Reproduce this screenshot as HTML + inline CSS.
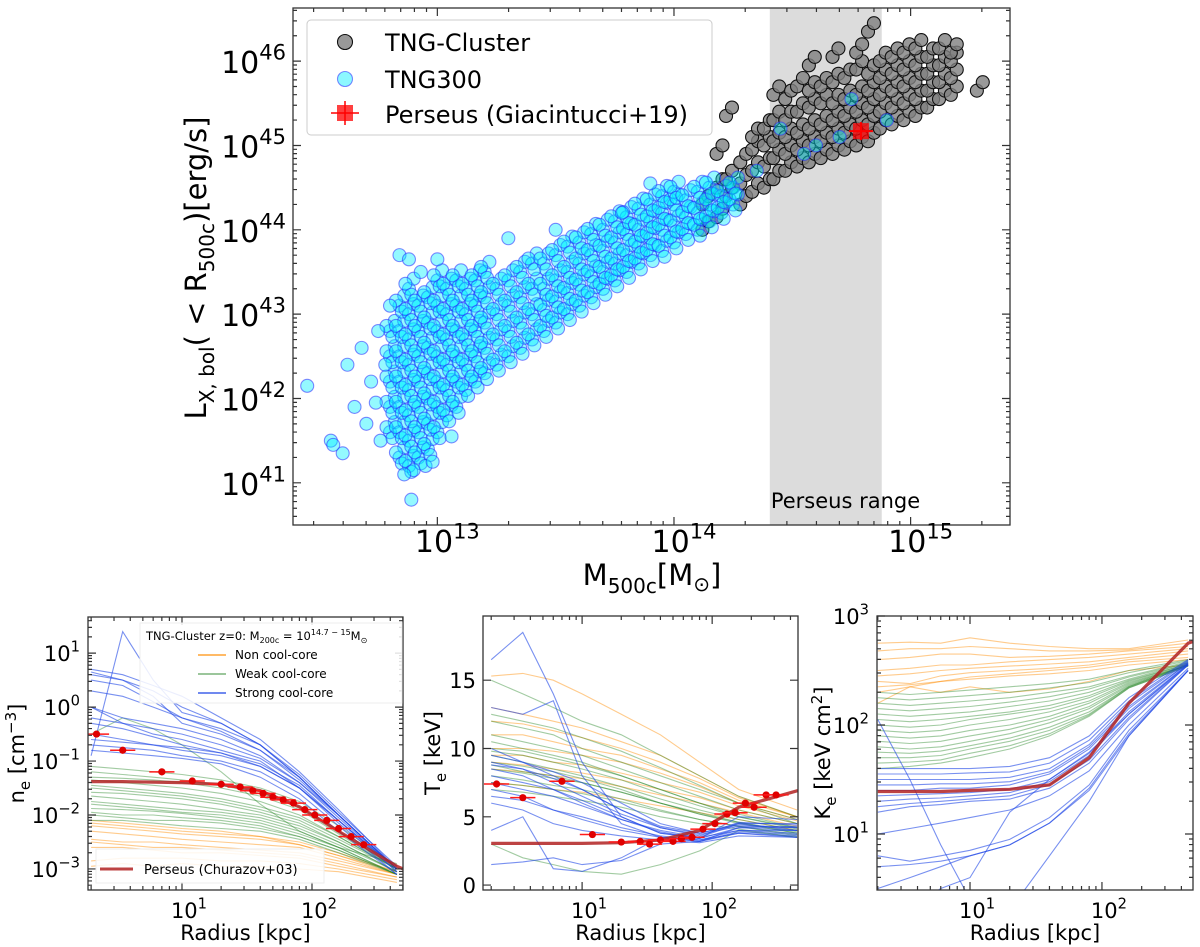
<!DOCTYPE html>
<html><head><meta charset="utf-8"><style>
html,body{margin:0;padding:0;background:#fff;}
svg{display:block;font-family:"DejaVu Sans","Liberation Sans",sans-serif;}
</style></head><body>
<svg id="chart" width="1200" height="947" viewBox="0 0 1200 947" xmlns="http://www.w3.org/2000/svg"></svg>
<script>
// ---------------- DATA ----------------
const blueM = [12.80,12.84,12.88,12.92,12.96,13.00,13.04,13.08,13.12,13.16,13.20,13.25,13.30,13.35,13.40,13.45,13.50,13.55,13.60,13.65,13.70,13.75,13.80,13.85,13.90,13.95,14.00,14.05,14.10,14.15,14.20,14.25];
const blueL = [[41.6,41.9,42.2,42.5,42.8],[41.3,41.6,41.9,42.2,42.5,42.8,43.1],[41.2,41.5,41.8,42.1,42.4,42.7,43.0,43.3],[41.3,41.6,41.9,42.2,42.5,42.8,43.1],[41.4,41.7,42.0,42.3,42.6,42.9,43.2],[41.6,41.9,42.2,42.5,42.8,43.1,43.4],[41.8,42.1,42.4,42.7,43.0,43.3],[41.9,42.2,42.5,42.8,43.1,43.4],[42.1,42.4,42.7,43.0,43.3],[42.2,42.5,42.8,43.1,43.4],[42.3,42.6,42.9,43.2,43.5],[42.4,42.7,43.0,43.3],[42.5,42.8,43.1,43.4],[42.6,42.9,43.2,43.5],[42.7,43.0,43.3,43.6],[42.8,43.05,43.3,43.6],[42.9,43.15,43.4,43.7],[43.0,43.25,43.5,43.8],[43.1,43.35,43.6,43.85],[43.2,43.45,43.7,43.95],[43.3,43.5,43.75,44.0],[43.4,43.6,43.85,44.1],[43.5,43.7,43.95,44.15],[43.6,43.8,44.0,44.25],[43.7,43.9,44.1,44.3],[43.75,44.0,44.2,44.4],[43.85,44.05,44.3,44.45],[43.95,44.15,44.35],[44.0,44.2,44.45],[44.1,44.3,44.5],[44.2,44.4],[44.3,44.5]];
const blueExtraM = [12.45,12.55,12.56,12.60,12.62,12.65,12.68,12.70,12.72,12.74,12.75,12.76,12.78,12.80,12.84,12.88,12.89,12.90,12.86,12.95,13.00,13.30,13.50,13.78,13.90,14.35,14.45,14.55,14.60,14.70,14.75,14.90,12.98,13.06,12.93];
const blueExtraL = [42.15,41.5,41.45,41.35,42.4,41.9,42.6,41.7,42.2,41.95,42.8,41.5,42.4,43.1,43.7,43.65,40.8,41.15,41.1,41.2,43.65,43.9,44.0,44.2,44.55,44.7,45.2,44.9,45.0,45.1,45.55,45.3,41.25,41.55,43.5];
const grayM = [14.12,14.18,14.22,14.28,14.33,14.38,14.42,14.47,14.52,14.57,14.62,14.67,14.72,14.77,14.82,14.87,14.92,14.97,15.02,15.07,15.12,15.17,15.28];
const grayL = [[44.0,44.3],[44.15,44.5,44.9],[44.4,44.6,45.35],[44.3,44.55,44.8],[44.45,44.7,44.95,45.1],[44.5,44.75,45.0,45.2],[44.6,44.85,45.05,45.3,45.6],[44.7,44.9,45.1,45.3,45.55],[44.75,44.95,45.15,45.4,45.7],[44.8,45.0,45.2,45.45,45.65,45.95],[44.85,45.05,45.25,45.5,45.7],[44.9,45.1,45.3,45.5,45.75,46.05],[44.95,45.15,45.35,45.55,45.8],[45.0,45.2,45.4,45.6,45.9,46.1],[45.05,45.25,45.45,45.65,45.85,46.35],[45.2,45.4,45.6,45.8,46.0],[45.25,45.45,45.65,45.85,46.05],[45.3,45.5,45.7,45.9,46.1],[45.35,45.55,45.75,45.95,46.15],[45.45,45.65,45.85,46.05],[45.55,45.75,45.95,46.15],[45.6,45.8,46.0,46.1],[45.65]];
const perseusM = 14.79, perseusL = 45.17;
const bandLo = 14.405, bandHi = 14.878;

const radii = [2,3.5,6,10,20,40,80,160,450];
const neOrange = [[-2.1,-2.15,-2.2,-2.25,-2.3,-2.4,-2.5,-2.7,-3.05],[-2.2,-2.25,-2.3,-2.35,-2.4,-2.45,-2.55,-2.75,-3.05],[-2.3,-2.35,-2.4,-2.45,-2.5,-2.55,-2.6,-2.8,-3.1],[-2.45,-2.5,-2.5,-2.55,-2.6,-2.65,-2.7,-2.85,-3.1],[-2.6,-2.6,-2.65,-2.7,-2.7,-2.75,-2.8,-2.95,-3.15],[-2.85,-2.8,-2.8,-2.8,-2.85,-2.85,-2.9,-3.0,-3.2],[-2.15,-2.2,-2.25,-2.3,-2.35,-2.4,-2.55,-2.75,-3.1],[-2.5,-2.55,-2.6,-2.6,-2.65,-2.7,-2.75,-2.9,-3.15],[-2.95,-2.9,-2.95,-2.9,-2.95,-2.95,-3.0,-3.05,-3.25]];
const neGreen = [[-1.2,-1.25,-1.3,-1.35,-1.45,-1.6,-1.85,-2.3,-3.0],[-1.35,-1.4,-1.45,-1.5,-1.6,-1.75,-2.0,-2.4,-3.0],[-1.5,-1.55,-1.6,-1.65,-1.75,-1.9,-2.1,-2.45,-3.0],[-1.65,-1.7,-1.75,-1.8,-1.9,-2.0,-2.2,-2.5,-3.05],[-1.8,-1.85,-1.9,-1.95,-2.0,-2.1,-2.3,-2.6,-3.1],[-1.95,-2.0,-2.0,-2.05,-2.1,-2.2,-2.4,-2.65,-3.1],[-2.1,-2.1,-2.15,-2.2,-2.25,-2.3,-2.45,-2.7,-3.1],[-0.5,-0.2,-0.4,-0.7,-1.2,-1.8,-2.3,-2.6,-2.9],[-1.45,-1.5,-1.55,-1.6,-1.7,-1.85,-2.05,-2.4,-3.0],[-1.75,-1.8,-1.85,-1.9,-1.95,-2.05,-2.25,-2.55,-3.05],[-1.3,-1.32,-1.35,-1.4,-1.5,-1.65,-1.9,-2.35,-3.0],[-1.58,-1.6,-1.65,-1.7,-1.8,-1.95,-2.15,-2.5,-3.05],[-1.88,-1.9,-1.93,-1.97,-2.05,-2.15,-2.35,-2.6,-3.1],[-1.1,-1.15,-1.2,-1.25,-1.35,-1.5,-1.75,-2.2,-2.95],[-2.0,-2.05,-2.1,-2.1,-2.15,-2.25,-2.4,-2.65,-3.1]];
const neBlue = [[0.7,0.6,0.4,0.2,-0.2,-0.6,-1.2,-1.9,-3.0],[0.5,0.4,0.1,-0.2,-0.4,-0.7,-1.3,-2.0,-3.0],[0.0,-0.2,-0.3,-0.4,-0.6,-0.9,-1.4,-2.0,-3.0],[-0.5,-0.6,-0.7,-0.8,-0.9,-1.1,-1.5,-2.1,-3.05],[-0.7,-0.75,-0.8,-0.9,-1.0,-1.2,-1.6,-2.2,-3.1],[-0.8,-0.85,-0.9,-0.95,-1.05,-1.3,-1.7,-2.3,-3.1],[-0.9,1.4,0.5,-0.1,-0.3,-0.7,-1.3,-2.0,-3.0],[0.0,-0.3,-0.5,-0.6,-0.8,-1.0,-1.5,-2.1,-3.0],[-0.3,-0.4,-0.55,-0.7,-0.85,-1.05,-1.45,-2.1,-3.0],[0.6,0.5,0.3,0.0,-0.3,-0.7,-1.25,-1.95,-2.95],[0.3,0.2,0.0,-0.2,-0.45,-0.8,-1.3,-2.0,-3.0],[-0.2,-0.3,-0.4,-0.5,-0.7,-0.95,-1.4,-2.05,-3.0],[-0.6,-0.65,-0.7,-0.75,-0.85,-1.1,-1.5,-2.15,-3.05],[0.65,0.5,0.2,-0.3,-0.5,-0.8,-1.35,-2.0,-3.0]];
const nePerseus = [-1.38,-1.38,-1.39,-1.4,-1.43,-1.55,-1.85,-2.3,-2.95];
const neObsR = [2.2,3.5,7,12,20,28,35,42,50,60,72,88,105,130,160,200,250];
const neObsV = [-0.5,-0.8,-1.2,-1.37,-1.43,-1.48,-1.55,-1.6,-1.67,-1.72,-1.78,-1.9,-2.0,-2.1,-2.25,-2.4,-2.55];

const teOrange = [[15.3,15.5,15,14,12.5,11,9,7,5.5],[13,12.5,12,11.5,10.5,9.5,8,6.5,5],[11,11,10.5,10,9.5,8.5,7.5,6.2,5],[9.5,9.5,9,8.8,8.2,7.5,6.8,5.8,4.7],[8.5,8.3,8,7.8,7.2,6.6,6,5.3,4.3],[7.5,7.3,7,6.8,6.3,5.8,5.3,4.8,4.0],[10,10,9.8,9.5,9,8.2,7.2,6,4.8],[12,11.8,11.3,10.8,10,9,7.8,6.4,5.0],[9,8.8,8.5,8.2,7.7,7,6.4,5.5,4.5]];
const teGreen = [[15,14,13,12,11,9.5,8,6.5,5],[12,11.5,11,10,9,8,7,6,4.5],[10.5,10,9.5,9,8,7,6,5.2,4.2],[9.5,9,8.5,8,7.2,6.3,5.5,4.8,4.0],[8.8,8.3,8,7.5,6.8,6,5.2,4.6,3.8],[8,7.7,7.3,7,6.3,5.5,4.8,4.3,3.6],[7,6.8,6.5,6.2,5.7,5.0,4.5,4.1,3.5],[3,2,1.5,1.0,0.8,1.5,2.5,4,3.5],[11,10.5,10,9.5,8.5,7.5,6.5,5.5,4.5],[9,8.7,8.3,7.8,7,6,5.2,4.5,3.8],[10,9.8,9.3,8.8,8,7,6,5,4.2],[8.5,8.2,7.8,7.5,6.8,6,5.3,4.6,3.9],[7.5,7.3,7,6.7,6.1,5.4,4.8,4.3,3.7],[12.5,12,11.5,10.8,9.8,8.6,7.3,6,4.8],[9.8,9.5,9,8.5,7.7,6.7,5.8,5,4.1]];
const teBlue = [[16.5,18.5,14,9,5,3.8,3.5,4.5,4.5],[13,12.5,13.5,8,4.5,3.5,3.2,4.2,4.3],[10,9,8,7,5.5,4.3,3.8,4.5,4.0],[9,8.5,7.5,6.5,5.2,4.2,3.7,4.3,4.2],[8,7.5,7,6,4.8,4.0,3.5,4.0,4.0],[7,6.5,5.5,5,4.2,3.6,3.3,3.8,3.6],[4,5,1.2,1.0,2,3.5,3.3,4,3.8],[1.5,1.7,2.0,1.5,1.8,3.0,3.2,3.8,3.5],[8.5,8.0,7.0,6.2,5.0,3.8,3.4,5,4.8],[6,5.5,4.5,4.0,3.6,3.3,3.1,3.6,3.5],[9.5,9,8.3,7.5,6,4.5,3.8,4.4,4.2],[7.5,7,6.5,5.8,4.8,3.9,3.4,4.2,4.0],[6.5,6.2,5.5,4.8,4.0,3.5,3.2,3.9,3.7],[8.8,8.5,7.8,7,5.5,4.2,3.6,4.6,4.4]];
const tePerseus = [3.05,3.05,3.05,3.05,3.1,3.3,4.0,5.7,6.9];
const teObsR = [2.2,3.5,7,12,20,28,33,40,50,58,70,85,105,130,150,180,210,260,310];
const teObsV = [7.4,6.4,7.6,3.7,3.15,3.2,3.0,3.3,3.2,3.4,3.5,4.1,4.5,5.2,5.3,6.0,5.7,6.6,6.6];

const kOrange = [[2.75,2.76,2.75,2.8,2.75,2.72,2.7,2.7,2.78],[2.6,2.62,2.65,2.65,2.62,2.63,2.65,2.68,2.72],[2.5,2.52,2.55,2.55,2.58,2.6,2.62,2.65,2.7],[2.4,2.38,2.45,2.48,2.5,2.52,2.55,2.6,2.65],[2.3,2.35,2.4,2.42,2.45,2.47,2.5,2.55,2.6],[2.2,2.35,2.3,2.35,2.3,2.33,2.4,2.5,2.55],[2.68,2.7,2.7,2.72,2.7,2.68,2.68,2.69,2.75],[2.45,2.47,2.5,2.52,2.54,2.56,2.58,2.62,2.68],[2.35,2.37,2.4,2.44,2.47,2.5,2.53,2.58,2.62]];
const kGreen = [[2.3,2.28,2.3,2.32,2.35,2.38,2.42,2.5,2.6],[2.2,2.18,2.2,2.22,2.25,2.3,2.35,2.45,2.58],[2.1,2.08,2.1,2.12,2.17,2.22,2.3,2.42,2.57],[2.0,1.98,2.0,2.05,2.1,2.15,2.25,2.4,2.56],[1.9,1.88,1.9,1.95,2.0,2.08,2.2,2.38,2.55],[1.8,1.78,1.8,1.85,1.92,2.02,2.15,2.36,2.55],[1.7,1.7,1.72,1.78,1.85,1.95,2.1,2.35,2.55],[1.6,1.62,1.65,1.7,1.78,1.9,2.08,2.34,2.54],[2.05,2.03,2.05,2.08,2.12,2.18,2.27,2.41,2.56],[1.85,1.83,1.85,1.9,1.96,2.05,2.17,2.37,2.55],[2.25,2.23,2.25,2.27,2.3,2.34,2.39,2.48,2.59],[2.15,2.13,2.15,2.17,2.21,2.26,2.33,2.44,2.57],[1.95,1.93,1.95,2.0,2.05,2.12,2.22,2.39,2.55],[1.75,1.74,1.76,1.81,1.88,1.98,2.12,2.35,2.55],[1.65,1.66,1.68,1.74,1.81,1.92,2.09,2.34,2.54]];
const kBlue = [[1.6,1.6,1.6,1.6,1.62,1.7,1.9,2.25,2.6],[1.5,1.5,1.5,1.5,1.52,1.6,1.82,2.2,2.58],[1.4,1.4,1.42,1.42,1.45,1.55,1.78,2.15,2.57],[1.3,1.32,1.33,1.35,1.38,1.48,1.72,2.1,2.56],[1.2,1.25,1.27,1.3,1.32,1.42,1.65,2.05,2.55],[1.0,1.05,1.1,1.15,1.22,1.35,1.58,2.0,2.52],[0.8,0.75,0.8,0.85,0.95,1.15,1.45,1.95,2.5],[0.5,0.6,0.7,0.8,0.9,1.1,1.4,1.9,2.5],[2.05,1.5,0.9,0.4,0.3,0.8,1.3,1.9,2.5],[0.4,0.3,0.5,0.6,1.2,1.5,1.75,2.1,2.55],[1.45,1.45,1.46,1.46,1.48,1.57,1.8,2.17,2.57],[1.35,1.36,1.37,1.38,1.41,1.5,1.74,2.12,2.56],[1.55,1.55,1.55,1.56,1.57,1.65,1.86,2.22,2.59],[1.25,1.28,1.3,1.32,1.35,1.45,1.68,2.07,2.55],[0.7,0.72,0.75,0.8,0.9,1.1,1.42,1.92,2.5]];
const kPerseus = [1.39,1.39,1.39,1.4,1.41,1.45,1.7,2.2,2.75];

// ---------------- DRAWING ----------------
const NS = "http://www.w3.org/2000/svg";
const svg = document.getElementById('chart');
function mk(tag, attrs, parent){
  const e = document.createElementNS(NS, tag);
  for (const k in attrs) e.setAttribute(k, attrs[k]);
  (parent || svg).appendChild(e);
  return e;
}
function powText(parent, x, y, base, exp, size, anchor){
  const t = mk('text', {x:x, y:y, 'font-size':size, 'text-anchor':anchor||'middle', fill:'#000'}, parent);
  
  
  t.appendChild(document.createTextNode(base));
  const s = mk('tspan', {dy: -size*0.45, 'font-size': size*0.7}, t);
  s.textContent = exp;
  return t;
}

const M = {x0:293, x1:1010, y0:8, y1:525, xlo:12.39, xhi:15.42, ylo:40.5, yhi:46.63};
const xM = v => M.x0 + (v - M.xlo)/(M.xhi - M.xlo)*(M.x1 - M.x0);
const yL = v => M.y1 - (v - M.ylo)/(M.yhi - M.ylo)*(M.y1 - M.y0);
const gMain = mk('g', {});



const band = mk('rect', {x:xM(bandLo), y:M.y0, width:xM(bandHi)-xM(bandLo), height:M.y1-M.y0, fill:'#dcdcdc'}, gMain);


const bandTxt = mk('text', {x:xM(bandLo)+1, y:508, 'font-size':21, fill:'#000'}, gMain);


bandTxt.textContent = 'Perseus range';

const gGray = mk('g', {}, gMain);


function grayPt(m, l){
  const c = mk('circle', {cx:xM(m), cy:yL(l), r:6.5, fill:'rgba(128,128,128,0.8)', stroke:'#111', 'stroke-width':1.1}, gGray);
  
  
}
grayM.forEach((m, i) => { grayL[i].forEach(l => { grayPt(m, l); grayPt(m + 0.025, l + 0.1); }); });
const gBlue = mk('g', {}, gMain);


function bluePt(m, l){
  const c = mk('circle', {cx:xM(m), cy:yL(l), r:6.5, fill:'rgba(0,240,255,0.42)', stroke:'rgba(40,40,255,0.55)', 'stroke-width':1.1}, gBlue);
  
  
}
blueM.forEach((m, i) => { blueL[i].forEach(l => { bluePt(m, l); bluePt(m + 0.02, l + 0.12); bluePt(m - 0.015, l + 0.06); bluePt(m + 0.01, l - 0.07); }); });
blueExtraM.forEach((m, i) => bluePt(m, blueExtraL[i]));

const px = xM(perseusM), py = yL(perseusL);
const pErr = mk('path', {d:`M${px-12},${py}H${px+12}M${px},${py-9}V${py+9}`, stroke:'#ff0000', 'stroke-width':2}, gMain);


const pSq = mk('rect', {x:px-8, y:py-8, width:16, height:16, fill:'rgba(255,0,0,0.75)'}, gMain);



function logTicks(g, x0, x1, y0, y1, lo, hi, map, horizontal){
  for (let d = Math.floor(lo); d <= Math.ceil(hi); d++){
    for (let k = 1; k < 10; k++){
      const v = d + Math.log10(k);
      if (v < lo || v > hi) continue;
      const p = map(v); const len = k === 1 ? 8 : 4;
      let dd;
      if (horizontal) dd = `M${p},${y1}v${-len}M${p},${y0}v${len}`;
      else dd = `M${x0},${p}h${len}M${x1},${p}h${-len}`;
      const t = mk('path', {d:dd, stroke:'#333', 'stroke-width':1.2}, g);
      
      
    }
  }
}
function linTicks(g, x0, x1, lo, hi, step, minor, map){
  for (let v = Math.ceil(lo/minor)*minor; v <= hi; v += minor){
    const p = map(v);
    const t = mk('path', {d:`M${x0},${p}h8M${x1},${p}h-8`, stroke:'#333', 'stroke-width':1.2}, g);
    
    
  }
}
logTicks(gMain, M.x0, M.x1, M.y0, M.y1, M.xlo, M.xhi, xM, true);
logTicks(gMain, M.x0, M.x1, M.y0, M.y1, M.ylo, M.yhi, yL, false);
const frame = mk('rect', {x:M.x0, y:M.y0, width:M.x1-M.x0, height:M.y1-M.y0, fill:'none', stroke:'#333', 'stroke-width':1.3}, gMain);


[13,14,15].forEach(e => powText(gMain, xM(e)+10, 552, '10', e, 30));
[41,42,43,44,45,46].forEach(e => powText(gMain, 286, yL(e)+12, '10', e, 30, 'end'));

const xlab = mk('text', {x:652, y:585, 'font-size':29, 'text-anchor':'middle'}, gMain);


xlab.innerHTML = 'M<tspan dy="8" font-size="20">500c</tspan><tspan dy="-8">[M</tspan><tspan dy="6" font-size="20">⊙</tspan><tspan dy="-6">]</tspan>';
const ylab = mk('text', {x:0, y:0, 'font-size':29, 'text-anchor':'middle', transform:'translate(206,268) rotate(-90)'}, gMain);


ylab.innerHTML = 'L<tspan dy="8" font-size="20">X, bol</tspan><tspan dy="-8">( &lt; R</tspan><tspan dy="8" font-size="20">500c</tspan><tspan dy="-8">)[erg/s]</tspan>';

const lg = mk('g', {});


const lbox = mk('rect', {x:307, y:20, width:405, height:115, rx:4, fill:'rgba(255,255,255,0.85)', stroke:'#ccc'}, lg);


const le1 = mk('circle', {cx:345, cy:42, r:7.5, fill:'rgba(128,128,128,0.8)', stroke:'#111', 'stroke-width':1.1}, lg);


const le2 = mk('circle', {cx:345, cy:79, r:7.5, fill:'rgba(0,240,255,0.45)', stroke:'rgba(40,40,255,0.55)', 'stroke-width':1.1}, lg);


const le3 = mk('rect', {x:337, y:105, width:16, height:16, fill:'rgba(255,0,0,0.75)'}, lg);


const le3b = mk('path', {d:'M331,113H359M345,101V125', stroke:'#ff0000', 'stroke-width':1.5}, lg);


[['TNG-Cluster',51],['TNG300',88],['Perseus (Giacintucci+19)',123]].forEach(([s, y]) => {
  const t = mk('text', {x:385, y:y, 'font-size':24}, lg);
  
  
  t.textContent = s;
});

// ===== BOTTOM PANELS =====
const C_OR = 'rgba(255,140,0,0.45)', C_GR = 'rgba(34,130,34,0.42)', C_BL = 'rgba(30,70,230,0.6)', C_PE = 'rgba(178,34,34,0.85)';
function panel(name, P){
  const g = mk('g', {});
  
  
  const clip = mk('clipPath', {id:name+'-clip'}, g);
  mk('rect', {x:P.x0, y:P.y0, width:P.x1-P.x0, height:P.y1-P.y0}, clip);
  const inner = mk('g', {'clip-path':`url(#${name}-clip)`}, g);
  P.X = v => P.x0 + (Math.log10(v) - P.xlo)/(P.xhi - P.xlo)*(P.x1 - P.x0);
  P.Y = v => P.y1 - (v - P.ylo)/(P.yhi - P.ylo)*(P.y1 - P.y0);
  P.g = g; P.inner = inner;
  return P;
}
function drawSet(P, sets, color, lname){
  sets.forEach(arr => {
    const d = arr.map((v, i) => (i ? 'L' : 'M') + P.X(radii[i]).toFixed(1) + ',' + P.Y(v).toFixed(1)).join('');
    const p = mk('path', {d:d, fill:'none', stroke:color, 'stroke-width':1.1}, P.inner);
    
    
  });
}
function drawPerseus(P, arr, ext){
  const pts = arr.map((v, i) => [P.X(radii[i]), P.Y(v)]);
  pts.push([P.X(600), P.Y(ext)]);
  const d = pts.map((p, i) => (i ? 'L' : 'M') + p[0].toFixed(1) + ',' + p[1].toFixed(1)).join('');
  const p = mk('path', {d:d, fill:'none', stroke:C_PE, 'stroke-width':3.2, 'stroke-linejoin':'round'}, P.inner);
  
  
}
function drawObs(P, rs, vs){
  rs.forEach((r, i) => {
    const x = P.X(r), y = P.Y(vs[i]), w = Math.max(4, P.X(r*1.25) - P.X(r));
    const e = mk('path', {d:`M${x-w},${y}H${x+w}`, stroke:'#ff1a1a', 'stroke-width':1.5}, P.inner);
    
    
    const c = mk('circle', {cx:x, cy:y, r:3.6, fill:'#e00000'}, P.inner);
    
    
  });
}
function frameAndX(P, ytitleHTML, ytx){
  logTicks(P.g, P.x0, P.x1, P.y0, P.y1, P.xlo, P.xhi, lv => P.x0 + (lv - P.xlo)/(P.xhi - P.xlo)*(P.x1 - P.x0), true);
  const f = mk('rect', {x:P.x0, y:P.y0, width:P.x1-P.x0, height:P.y1-P.y0, fill:'none', stroke:'#333', 'stroke-width':1.3}, P.g);
  
  
  [1,2].forEach(e => powText(P.g, P.X(Math.pow(10,e))+7, 918, '10', e, 21));
  const xl = mk('text', {x:(P.x0+P.x1)/2, y:940, 'font-size':21, 'text-anchor':'middle'}, P.g);
  
  
  xl.textContent = 'Radius [kpc]';
  const yl = mk('text', {x:0, y:0, 'font-size':21, 'text-anchor':'middle', transform:`translate(${ytx},${(P.y0+P.y1)/2}) rotate(-90)`}, P.g);
  
  
  yl.innerHTML = ytitleHTML;
}

const P1 = panel('density-panel', {x0:88, x1:403, y0:617, y1:890, xlo:0.277, xhi:2.70, ylo:-3.39, yhi:1.67});
drawSet(P1, neOrange, C_OR, 'non-cool-core-profile');
drawSet(P1, neGreen, C_GR, 'weak-cool-core-profile');
drawSet(P1, neBlue, C_BL, 'strong-cool-core-profile');
drawPerseus(P1, nePerseus, -3.08);
drawObs(P1, neObsR, neObsV);
logTicks(P1.g, P1.x0, P1.x1, P1.y0, P1.y1, P1.ylo, P1.yhi, P1.Y, false);
frameAndX(P1, 'n<tspan dy="6" font-size="15">e</tspan><tspan dy="-6"> [cm</tspan><tspan dy="-8" font-size="15">−3</tspan><tspan dy="8">]</tspan>', 24);
[-3,-2,-1,0,1].forEach(e => powText(P1.g, 80, P1.Y(e)+8, '10', e < 0 ? '−'+(-e) : e, 21, 'end'));
const l1 = mk('rect', {x:140, y:623, width:262, height:80, fill:'rgba(255,255,255,0.85)', stroke:'#eee'}, P1.g);


const l1t = mk('text', {x:146, y:640, 'font-size':11.5}, P1.g);


l1t.innerHTML = 'TNG-Cluster z=0: M<tspan dy="3" font-size="8">200c</tspan><tspan dy="-3"> = 10</tspan><tspan dy="-5" font-size="8">14.7 − 15</tspan><tspan dy="5">M</tspan><tspan dy="3" font-size="8">⊙</tspan>';
[['Non cool-core', 655, 'rgba(255,140,0,0.8)'],['Weak cool-core', 674, 'rgba(34,130,34,0.6)'],['Strong cool-core', 693, 'rgba(30,70,230,0.85)']].forEach(([s, y, c]) => {
  const ln = mk('path', {d:`M198,${y}H226`, stroke:c, 'stroke-width':1.6}, P1.g);
  
  
  const t = mk('text', {x:235, y:y+4, 'font-size':12}, P1.g);
  
  
  t.textContent = s;
});
const l2 = mk('rect', {x:96, y:849, width:228, height:34, fill:'rgba(255,255,255,0.85)', stroke:'#eee'}, P1.g);


const l2l = mk('path', {d:'M100,869H133', stroke:C_PE, 'stroke-width':3}, P1.g);


const l2t = mk('text', {x:144, y:874, 'font-size':13}, P1.g);


l2t.textContent = 'Perseus (Churazov+03)';

const P2 = panel('temperature-panel', {x0:483, x1:798, y0:616, y1:890, xlo:0.238, xhi:2.66, ylo:-0.36, yhi:19.7});
drawSet(P2, teOrange, C_OR, 'non-cool-core-profile');
drawSet(P2, teGreen, C_GR, 'weak-cool-core-profile');
drawSet(P2, teBlue, C_BL, 'strong-cool-core-profile');
drawPerseus(P2, tePerseus, 7.0);
drawObs(P2, teObsR, teObsV);
linTicks(P2.g, P2.x0, P2.x1, P2.ylo, P2.yhi, 5, 5, P2.Y);
frameAndX(P2, 'T<tspan dy="6" font-size="15">e</tspan><tspan dy="-6"> [keV]</tspan>', 440);
[0,5,10,15].forEach(v => {
  const t = mk('text', {x:476, y:P2.Y(v)+8, 'font-size':21, 'text-anchor':'end'}, P2.g);
  
  
  t.textContent = v;
});

const P3 = panel('entropy-panel', {x0:877, x1:1193, y0:616, y1:890, xlo:0.295, xhi:2.69, ylo:0.486, yhi:3.0});
drawSet(P3, kOrange, C_OR, 'non-cool-core-profile');
drawSet(P3, kGreen, C_GR, 'weak-cool-core-profile');
drawSet(P3, kBlue, C_BL, 'strong-cool-core-profile');
drawPerseus(P3, kPerseus, 2.8);
logTicks(P3.g, P3.x0, P3.x1, P3.y0, P3.y1, P3.ylo, P3.yhi, P3.Y, false);
frameAndX(P3, 'K<tspan dy="6" font-size="15">e</tspan><tspan dy="-6"> [keV cm</tspan><tspan dy="-8" font-size="15">2</tspan><tspan dy="8">]</tspan>', 830);
[1,2,3].forEach(e => powText(P3.g, 869, P3.Y(e)+8, '10', e, 21, 'end'));
</script>
</body></html>
